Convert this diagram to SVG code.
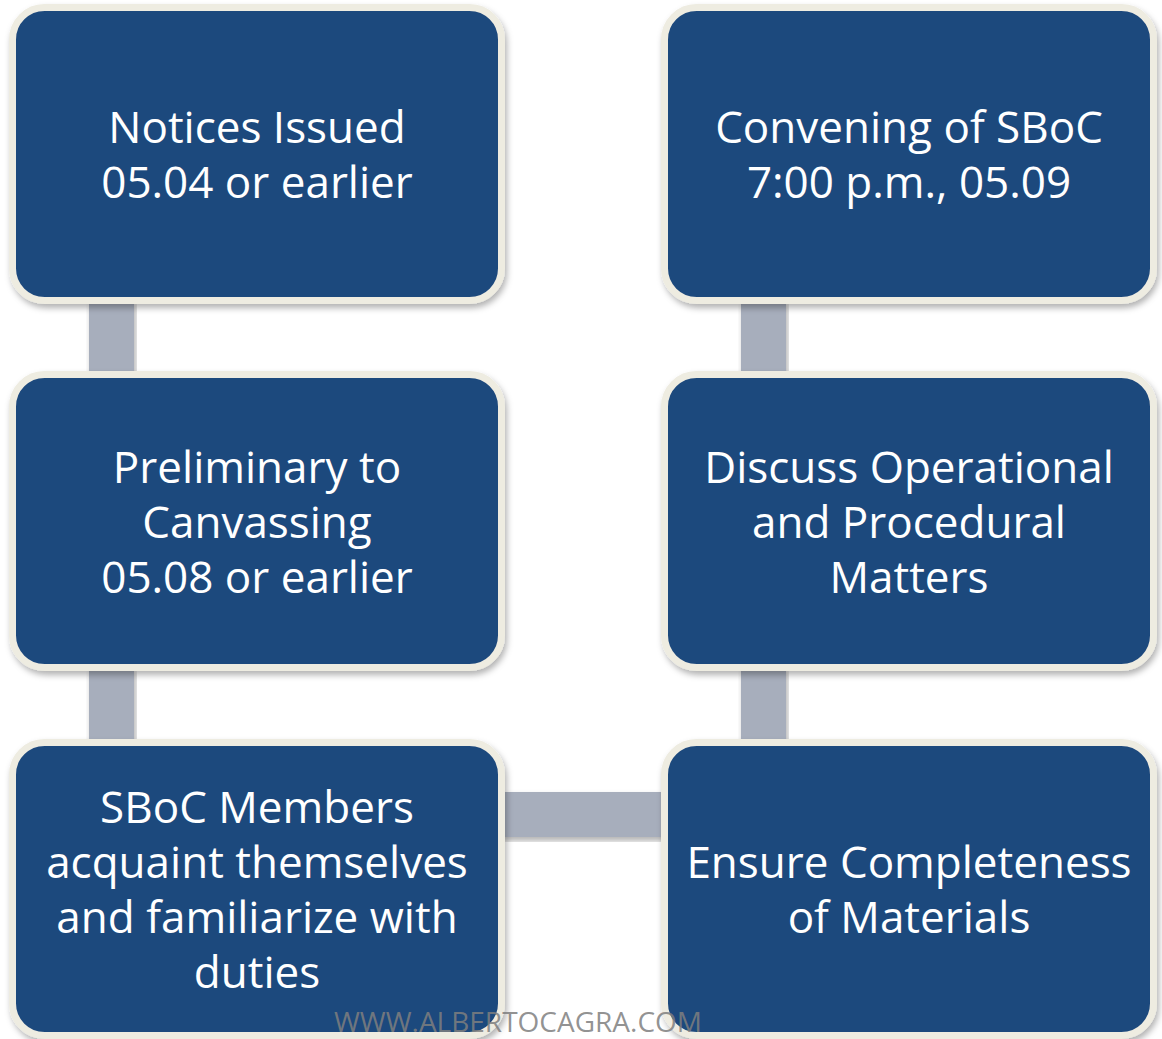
<svg xmlns="http://www.w3.org/2000/svg" width="1162" height="1039" viewBox="0 0 1162 1039">
<defs>
<filter id="sh" x="-5%" y="-5%" width="110%" height="115%">
<feDropShadow dx="2" dy="4" stdDeviation="3" flood-color="#000" flood-opacity="0.3"/>
</filter>
<style>
.box{fill:#1F497D;stroke:#EEECE1;stroke-width:7;filter:url(#sh)}
.lbl{font-family:"Open Sans","Noto Sans",sans-serif;font-size:44px;fill:#FFFFFF;text-anchor:middle}
.con{fill:#A7AEBC;filter:url(#sh)}
.wm{font-family:"Open Sans","Noto Sans",sans-serif;font-size:28px;fill:#7F7F7F;fill-opacity:0.85;text-anchor:middle}
</style>
</defs>
<rect width="1162" height="1039" fill="#FFFFFF"/>
<g id="connectors">
<rect class="con" x="89" y="300" width="45" height="80"/>
<rect class="con" x="89" y="667" width="45" height="80"/>
<rect class="con" x="741" y="300" width="45" height="80"/>
<rect class="con" x="741" y="667" width="45" height="80"/>
<rect class="con" x="500" y="792" width="170" height="45"/>
</g>
<g id="n1">
<rect class="box" x="12.5" y="7.5" width="489" height="293" rx="32"/>
<text class="lbl" x="257" y="143">Notices Issued</text>
<text class="lbl" x="257" y="198">05.04 or earlier</text>
</g>
<g id="n2">
<rect class="box" x="12.5" y="374.5" width="489" height="293" rx="32"/>
<text class="lbl" x="257" y="483">Preliminary to</text>
<text class="lbl" x="257" y="538">Canvassing</text>
<text class="lbl" x="257" y="593">05.08 or earlier</text>
</g>
<g id="n3">
<rect class="box" x="12.5" y="742.5" width="489" height="293" rx="32"/>
<text class="lbl" x="257" y="823">SBoC Members</text>
<text class="lbl" x="257" y="878">acquaint themselves</text>
<text class="lbl" x="257" y="933">and familiarize with</text>
<text class="lbl" x="257" y="988">duties</text>
</g>
<g id="n4">
<rect class="box" x="664.5" y="7.5" width="489" height="293" rx="32"/>
<text class="lbl" x="909" y="143">Convening of SBoC</text>
<text class="lbl" x="909" y="198">7:00 p.m., 05.09</text>
</g>
<g id="n5">
<rect class="box" x="664.5" y="374.5" width="489" height="293" rx="32"/>
<text class="lbl" x="909" y="483">Discuss Operational</text>
<text class="lbl" x="909" y="538">and Procedural</text>
<text class="lbl" x="909" y="593">Matters</text>
</g>
<g id="n6">
<rect class="box" x="664.5" y="742.5" width="489" height="293" rx="32"/>
<text class="lbl" x="909" y="878">Ensure Completeness</text>
<text class="lbl" x="909" y="933">of Materials</text>
</g>
<text class="wm" x="518" y="1032">WWW.ALBERTOCAGRA.COM</text>
</svg>
